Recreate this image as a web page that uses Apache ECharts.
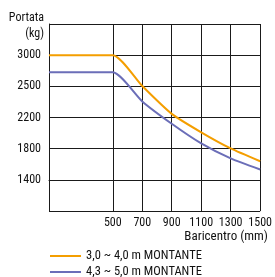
<!DOCTYPE html>
<html>
<head>
<meta charset="utf-8">
<script src="https://cdn.jsdelivr.net/npm/echarts@6/dist/echarts.min.js"></script>
<style>
html,body{margin:0;padding:0;background:#fff;}
#c{width:275px;height:277px;}
</style>
</head>
<body>
<div id="c"></div>
<script>
// ---- data ----
const xTickLabels = [500, 700, 900, 1100, 1300, 1500];
const yTickLabels = [1400, 1800, 2200, 2500, 3000];
const xValues = [67, 500, 700, 900, 1100, 1300, 1500];
const seriesNames = ['3,0 ~ 4,0 m MONTANTE', '4,3 ~ 5,0 m MONTANTE'];
const orangeKg = [3000, 3000, 2505, 2235, 2010, 1803, 1638];
const blueKg = [2725, 2725, 2355, 2120, 1868, 1675, 1533];
const xMin = 67, xMax = 1500;

const FONT = "'Roboto Condensed', 'DejaVu Sans Condensed', sans-serif";

// y axis uses evenly spaced tick labels (non-linear kg scale): map kg -> tick index
function kgToIndex(v) {
  const t = yTickLabels;
  for (let i = 0; i < t.length - 1; i++) {
    if (v >= t[i] && v <= t[i + 1]) return i + (v - t[i]) / (t[i + 1] - t[i]);
  }
  if (v > t[t.length - 1]) return t.length - 1 + (v - t[t.length - 1]) / (t[t.length - 1] - t[t.length - 2]);
  return (v - t[0]) / (t[1] - t[0]);
}

const chart = echarts.init(document.getElementById('c'), null, {renderer: 'canvas'});
const lineColor = '#1a1a1a';
chart.setOption({
  animation: false,
  textStyle: {fontFamily: FONT},
  grid: {left: 49, right: 14, top: 24, bottom: 66, containLabel: false},
  xAxis: {
    type: 'value', min: xMin, max: xMax,
    axisLine: {show: true, lineStyle: {color: lineColor, width: 1}},
    axisTick: {show: false, customValues: xTickLabels},
    axisLabel: {
      customValues: xTickLabels, showMaxLabel: true, showMinLabel: true,
      color: '#111', fontSize: 12, fontFamily: FONT, margin: 6,
      formatter: v => String(v)
    },
    splitLine: {show: true, lineStyle: {color: lineColor, width: 1}}
  },
  yAxis: {
    type: 'value', min: -1, max: 5, interval: 1,
    axisLine: {show: true, lineStyle: {color: lineColor, width: 1}},
    axisTick: {show: false},
    axisLabel: {
      color: '#111', fontSize: 12, fontFamily: FONT, margin: 8,
      formatter: v => (v >= 0 && v < yTickLabels.length) ? String(yTickLabels[v]) : ''
    },
    splitLine: {show: true, lineStyle: {color: lineColor, width: 1}}
  },
  legend: {
    orient: 'vertical', left: 50, top: 249, height: 40, padding: 0,
    icon: 'rect', itemWidth: 31, itemHeight: 2, itemGap: 2,
    textStyle: {fontSize: 12.5, lineHeight: 14, color: '#111', fontFamily: FONT, padding: 0},
    data: seriesNames
  },
  graphic: [
    {type: 'text', right: 275 - 44, top: 12, style: {text: 'Portata', font: '12px ' + FONT, fill: '#111', textAlign: 'right'}},
    {type: 'text', right: 275 - 44, top: 28, style: {text: '(kg)', font: '12px ' + FONT, fill: '#111', textAlign: 'right'}},
    {type: 'text', right: 275 - 268, top: 230, style: {text: 'Baricentro (mm)', font: '13px ' + FONT, fill: '#111', textAlign: 'right'}}
  ],
  series: [
    {
      name: seriesNames[0], type: 'line', showSymbol: false, symbol: 'none',
      smooth: 0.2,
      lineStyle: {color: '#F49E00', width: 2}, itemStyle: {color: '#F49E00'},
      data: xValues.map((x, i) => [x, kgToIndex(orangeKg[i])])
    },
    {
      name: seriesNames[1], type: 'line', showSymbol: false, symbol: 'none',
      smooth: 0.2,
      lineStyle: {color: '#6B6EB8', width: 2}, itemStyle: {color: '#6B6EB8'},
      data: xValues.map((x, i) => [x, kgToIndex(blueKg[i])])
    }
  ]
});
</script>
</body>
</html>
